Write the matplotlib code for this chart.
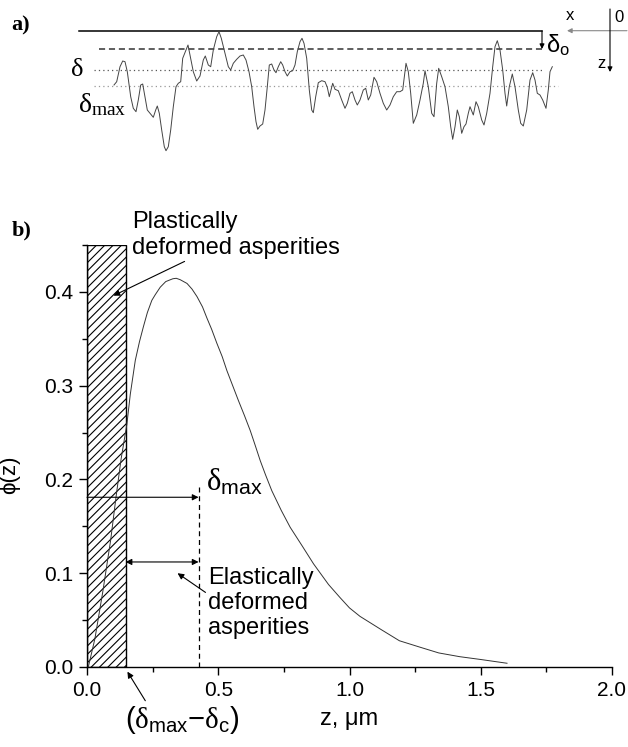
import matplotlib
matplotlib.use("Agg")
import matplotlib.pyplot as plt
from matplotlib.patches import Rectangle
from matplotlib.ticker import MultipleLocator

plt.rcParams["font.family"] = ["Liberation Sans", "DejaVu Sans"]
plt.rcParams["mathtext.fontset"] = "custom"
plt.rcParams["mathtext.rm"] = "Liberation Sans"
plt.rcParams["mathtext.it"] = "Liberation Serif"
plt.rcParams["mathtext.bf"] = "Liberation Sans:bold"
plt.rcParams["hatch.linewidth"] = 0.8

# ---- a) rough surface profile (pixels, depth down)
profile_x = [114, 116.7, 120, 122.7, 125, 127.3, 130.7, 133.3, 136, 138.3, 140.7,
             142.7, 145, 147.3, 150, 153.3, 155.7, 157.3, 159.3, 161.7, 164.3, 166,
             168.3, 170.7, 173.3, 176, 178.3, 180.7, 182.7, 185.3, 188, 190, 193.3,
             196.7, 200, 203.3, 205.3, 208.3, 210.7, 213.3, 216.7, 219, 221.3, 225,
             228.3, 230.7, 233.3, 236.7, 240, 243.3, 246, 249, 251.7, 254, 256,
             257.7, 260, 262.7, 265, 267.3, 269.3, 271.7, 274, 276, 278.3, 280.7,
             282.7, 285, 287.3, 290, 292.7, 295, 297.3, 300, 302, 304, 306.7, 309.3,
             311.7, 313.3, 315.7, 318.3, 321.7, 325, 327.3, 329.3, 331, 332.7, 335,
             338.3, 341.7, 345, 347.3, 350, 352.3, 355, 357.3, 360, 363.3, 365.7,
             368.3, 370.7, 374, 376.7, 380, 383.3, 386.7, 390, 393.3, 396.7, 400,
             402.7, 406, 408.3, 410.7, 413.3, 416.7, 420, 423.3, 425, 428.3, 431.7,
             434, 436.7, 438.7, 441.7, 445, 448.3, 450.7, 452.7, 455, 457.3, 459.3,
             461.7, 464, 466, 468.3, 470, 473.3, 476, 478.3, 481.7, 484, 486.7, 490,
             492.7, 495, 497.3, 500, 502.7, 505, 506.7, 509.3, 512.3, 515, 518.3,
             520.7, 523.3, 526.7, 530, 532.7, 535, 537.3, 540, 542.7, 546, 548.3,
             550, 552.3]
profile_y = [85, 81.7, 66.7, 61, 61.7, 71.7, 96.7, 108.3, 111.7, 100, 85,
             84, 96.7, 110, 113.3, 117.3, 110, 106, 113.3, 130, 146.7, 150.7,
             146.7, 130, 106.7, 86.7, 83.3, 81.7, 58.3, 51.7, 45, 55, 71.7,
             81, 76, 60, 56, 65, 66.7, 50, 36.7, 31.7, 38.3, 53.3,
             66.7, 70, 63.3, 59.3, 56, 55, 60, 71.7, 86.7, 106.7, 121.7,
             129.3, 126, 124, 110, 86.7, 65, 64, 70, 72.7, 66.7, 61.7,
             65, 71.7, 76, 71.7, 70.7, 65, 51.7, 41.7, 38.3, 43.3, 58.3, 90,
             110, 112.7, 96.7, 82.7, 80.7, 81.7, 87.3, 96.7, 90, 83.3, 89.3,
             90.7, 100, 108.3, 103.3, 93.3, 91.7, 100, 105, 100, 90, 88.3,
             100, 95, 77.3, 81.7, 93.3, 103.3, 110, 105, 96.7, 91.7, 91.7,
             90, 63.3, 71.7, 93.3, 123.3, 115, 100, 83.3, 70.7, 86.7, 113.3,
             116.7, 83.3, 68.3, 76.7, 86.7, 106.7, 126.7, 139.3, 126.7, 110, 116.7,
             133.3, 126.7, 124, 113.3, 106.7, 115, 101.7, 106.7, 120, 125, 113.3, 93.3,
             66.7, 46.7, 40.7, 50, 70, 93.3, 106, 86.7, 74, 86.7, 110,
             123.3, 126, 110, 80, 72.7, 80, 93.3, 95, 100, 108.3, 90,
             71.7, 66.7]

# ---- b) asperity height distribution phi(z)
z_vals = [0.005, 0.03, 0.06, 0.09, 0.11, 0.13, 0.152, 0.165, 0.184, 0.20, 0.215,
          0.23, 0.247, 0.26, 0.279, 0.30, 0.327, 0.34, 0.355, 0.381, 0.40, 0.419,
          0.44, 0.457, 0.475, 0.495, 0.515, 0.533, 0.555, 0.577, 0.60, 0.622, 0.64,
          0.66, 0.68, 0.704, 0.74, 0.774, 0.82, 0.863, 0.92, 0.964, 1.0, 1.04,
          1.12, 1.19, 1.27, 1.34, 1.42, 1.5, 1.6]
phi_vals = [0.0, 0.03, 0.08, 0.135, 0.18, 0.222, 0.259, 0.291, 0.327, 0.347, 0.363,
            0.378, 0.391, 0.397, 0.405, 0.411, 0.414, 0.4145, 0.413, 0.409, 0.403, 0.395,
            0.384, 0.372, 0.360, 0.345, 0.331, 0.316, 0.300, 0.284, 0.268, 0.252, 0.237,
            0.220, 0.205, 0.188, 0.167, 0.149, 0.129, 0.110, 0.088, 0.074, 0.063, 0.054,
            0.040, 0.028, 0.021, 0.015, 0.011, 0.008, 0.004]
delta_max = 0.425        # maximum interference
plastic_limit = 0.147    # delta_max - delta_c

W, H = 628, 747
fig = plt.figure(figsize=(W / 100, H / 100), dpi=100)


def fpos(x, y):
    return x / W, 1 - y / H


# ===== a) sketch of the rough surface =====
ax_a = fig.add_axes([0, 1 - 170 / H, 1, 170 / H])
ax_a.set_xlim(0, W)
ax_a.set_ylim(170, 0)
ax_a.axis("off")

ax_a.plot([79, 542], [30.7, 30.7], color="k", lw=1.1)
ax_a.plot([99, 542], [49.3, 49.3], color="#333", lw=1.1, dashes=(4, 2.5))
ax_a.plot([94, 542], [70, 70], color="#555", lw=0.9, linestyle=(0, (1, 2.5)))
ax_a.plot([94, 558], [85.7, 85.7], color="#999", lw=0.9, linestyle=(0, (1, 2.5)))
ax_a.plot(profile_x, profile_y, color="#444", lw=0.7)

arr = dict(arrowstyle="-|>", color="k", lw=0.8, mutation_scale=7,
           shrinkA=0, shrinkB=0)
ax_a.annotate("", xy=(542, 49), xytext=(542, 31), arrowprops=arr)
ax_a.annotate("", xy=(567, 30.7), xytext=(627, 30.7),
              arrowprops=dict(arr, color="#888"))
ax_a.annotate("", xy=(610, 72), xytext=(610, 9), arrowprops=arr)

ax_a.text(84, 70, "δ", family="Liberation Serif", fontsize=19,
          ha="right", va="center")
ax_a.text(78, 112, r"$\delta_{max}$", fontsize=20, ha="left", va="baseline")
ax_a.text(546, 52, r"$\mathrm{\delta_o}$", fontsize=17, ha="left", va="baseline")
ax_a.text(570, 15, "x", fontsize=12, ha="center", va="center")
ax_a.text(619, 17, "0", fontsize=12, ha="center", va="center")
ax_a.text(602, 63, "z", fontsize=12, ha="center", va="center")
fig.text(*fpos(11, 25), "a)", family="Liberation Serif", fontweight="bold",
         fontsize=16, ha="left", va="center")

# ===== b) distribution plot =====
ax = fig.add_axes([87 / W, 1 - 667 / H, (612 - 87) / W, (667 - 245) / H])
ax.add_patch(Rectangle((0, 0), plastic_limit, 0.45, facecolor="none",
                       edgecolor="k", lw=1.0, hatch="////", zorder=2))
ax.plot(z_vals, phi_vals, color="#333", lw=0.7, zorder=3)

ax.set_xlim(0, 2.0)
ax.set_ylim(0, 0.45)
ax.xaxis.set_major_locator(MultipleLocator(0.5))
ax.xaxis.set_minor_locator(MultipleLocator(0.25))
ax.yaxis.set_major_locator(MultipleLocator(0.1))
ax.yaxis.set_minor_locator(MultipleLocator(0.05))
ax.tick_params(which="both", direction="out", width=1.0, labelsize=15, pad=4)
ax.tick_params(which="major", length=6)
ax.tick_params(which="minor", length=3.5)
ax.xaxis.set_major_formatter(lambda v, p: f"{v:.1f}")
ax.yaxis.set_major_formatter(lambda v, p: f"{v:.1f}")
for s in ("top", "right"):
    ax.spines[s].set_visible(False)
for s in ("left", "bottom"):
    ax.spines[s].set_linewidth(1.0)

ax.set_xlabel("z, μm", fontsize=17, labelpad=6)
ax.set_ylabel("ϕ(z)", fontsize=16)
ax.yaxis.set_label_coords(-0.128, 0.455)

# delta_max marker and spans
ax.plot([delta_max, delta_max], [0, 0.195], color="k", lw=0.9, dashes=(4, 3))
ax.annotate("", xy=(delta_max, 0.181), xytext=(0, 0.181),
            arrowprops=dict(arr, mutation_scale=9), zorder=4)
ax.annotate("", xy=(delta_max, 0.112), xytext=(plastic_limit, 0.112),
            arrowprops=dict(arr, arrowstyle="<|-|>", mutation_scale=9), zorder=4)
ax.text(0.455, 0.188, r"$\delta_{\mathrm{max}}$", fontsize=22,
        ha="left", va="baseline")

ax.annotate("Plastically\ndeformed asperities", xy=(0.101, 0.396),
            xytext=(0.172, 0.486), fontsize=17, ha="left", va="top",
            annotation_clip=False,
            arrowprops=dict(arr, mutation_scale=9, relpos=(0.28, 0.0)))
ax.annotate("Elastically\ndeformed\nasperities", xy=(0.345, 0.100),
            xytext=(0.462, 0.107), fontsize=17, ha="left", va="top",
            arrowprops=dict(arr, mutation_scale=9, relpos=(0.0, 0.62)))
ax.annotate(r"$(\delta_{\mathrm{max}}\mathrm{-}\delta_{\mathrm{c}})$",
            xy=(0.154, -0.005), xytext=(0.363, -0.056), fontsize=21,
            ha="center", va="center", annotation_clip=False,
            arrowprops=dict(arr, mutation_scale=9, relpos=(0.2, 0.95)))

fig.text(*fpos(12, 230), "b)", family="Liberation Serif", fontweight="bold",
         fontsize=16, ha="left", va="center")

fig.savefig("out.png", dpi=100)
